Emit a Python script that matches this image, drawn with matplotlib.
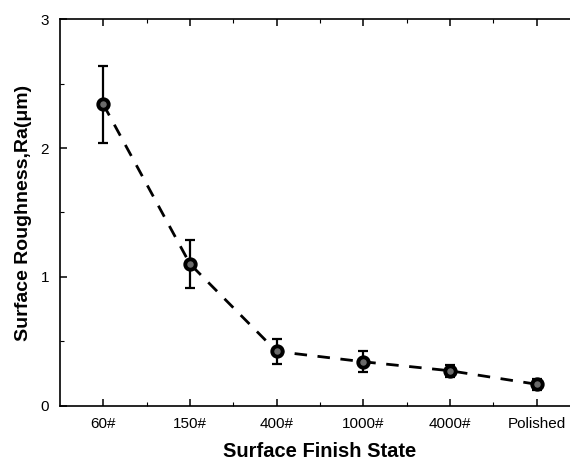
import matplotlib
matplotlib.use("Agg")
import matplotlib.pyplot as plt
from matplotlib.ticker import MultipleLocator, FixedLocator

plt.rcParams['font.family'] = ['Liberation Sans', 'DejaVu Sans']

# surface finish states and measured roughness Ra (um) with error bars
states = ["60#", "150#", "400#", "1000#", "4000#", "Polished"]
ra = [2.34, 1.10, 0.42, 0.34, 0.27, 0.165]
ra_err = [0.30, 0.19, 0.10, 0.08, 0.045, 0.043]

xpos = list(range(1, len(states) + 1))

fig = plt.figure(figsize=(5.70, 4.61), dpi=100)
# axes runs past the right border of the figure like in the source image
ax = fig.add_axes([60/570, (461-405.5)/461, 520/570, (405.5-19.5)/461])

ax.plot(xpos, ra, color='black', lw=2.0, ls=(0, (4.5, 3.8)), zorder=1)
ax.errorbar(xpos, ra, yerr=ra_err, fmt='none', ecolor='black',
            elinewidth=1.6, capsize=3.5, capthick=1.6, zorder=2)
ax.plot(xpos, ra, 'o', ms=7.5, mfc='#6a6a6a', mec='black', mew=2.8, zorder=3)

ax.set_xlim(0.5, 6.5)
ax.set_ylim(0, 3)
ax.set_xticks(xpos)
ax.set_xticklabels(states)
ax.xaxis.set_minor_locator(FixedLocator([1.5, 2.5, 3.5, 4.5, 5.5]))
ax.yaxis.set_major_locator(MultipleLocator(1))
ax.yaxis.set_minor_locator(MultipleLocator(0.5))

ax.tick_params(which='both', direction='in', top=True, right=False, labelsize=11, pad=8)
ax.tick_params(which='major', length=5, width=1.1)
ax.tick_params(which='minor', length=3, width=0.8)
for s in ax.spines.values():
    s.set_linewidth(1.2)

ax.set_xlabel("Surface Finish State", fontsize=14.5, fontweight='bold', labelpad=8)
ax.set_ylabel("Surface Roughness,Ra(\u03bcm)", fontsize=14, fontweight='bold', labelpad=6)

fig.savefig("out.png", dpi=100)
